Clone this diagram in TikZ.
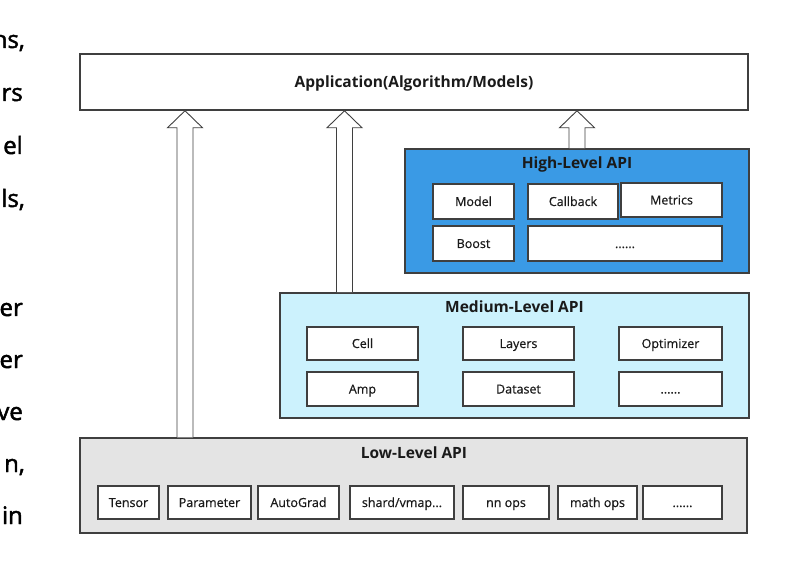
\documentclass[tikz,border=0pt]{standalone}
\usepackage{fontspec}
\setmainfont{Open Sans}
\newfontfamily\fragfont{Open Sans}[FakeBold=2]
\newfontfamily\itemfont{Open Sans}[FakeBold=0.5]
\usetikzlibrary{calc}
\definecolor{edge}{HTML}{3F3F3F}
\definecolor{highfill}{HTML}{3A9AE5}
\definecolor{medfill}{HTML}{CCF2FD}
\definecolor{lowfill}{HTML}{E4E4E4}
\definecolor{txt}{HTML}{1A1A1A}
\tikzset{
  outer/.style={draw=edge, line width=1.5pt, rectangle, inner sep=0pt},
  inner/.style={draw=edge, line width=1.2pt, fill=white, rectangle, inner sep=0pt,
    font=\itemfont\fontsize{12.5}{14}\selectfont, text=txt, text height=9pt, text depth=0pt},
  title/.style={font=\fontsize{15.5}{18}\selectfont\bfseries, text=txt, inner sep=0pt,
    text height=11pt, text depth=0pt},
  frag/.style={font=\fragfont\fontsize{24}{28}\selectfont, text=black, anchor=base east, inner sep=0pt},
  blkarrow/.style={draw=edge, line width=0.9pt, fill=white, line join=miter},
}
\newcommand\ibox[6]{% name, x1, y1, x2, y2, text
  \node[inner, minimum width={#4pt-#2pt}, minimum height={#5pt-#3pt}] (#1) at ({(#2+#4)/2},{(#3+#5)/2}) {#6};}
\newcommand\blockarrow[3]{% x coordinate, bottom node, top node
  \draw[blkarrow] ($(#1 |- #2.north)+(-8,0)$) -- ($(#1 |- #3.south)+(-8,17)$)
    -- ($(#1 |- #3.south)+(-17.5,17)$) -- (#1 |- #3.south)
    -- ($(#1 |- #3.south)+(17.5,17)$) -- ($(#1 |- #3.south)+(8,17)$)
    -- ($(#1 |- #2.north)+(8,0)$);}
\begin{document}
\begin{tikzpicture}[x=1pt,y=-1pt]
\useasboundingbox[fill=white] (0,0) rectangle (785,588);
% left text fragments (cut at the left edge, as in the reference)
\node[frag] (f1) at (25,48) {ns,};
\node[frag] (f2) at (23,101) {rs};
\node[frag] (f3) at (23,154) {el};
\node[frag] (f4) at (25,207) {ls,};
\node[frag] (f5) at (23,316) {er};
\node[frag] (f6) at (23,368) {er};
\node[frag] (f7) at (23,420) {ve};
\node[frag] (f8) at (25,472) {n,};
\node[frag] (f9) at (23,524) {in};
% outer boxes
\node[outer, fill=white, minimum width=668pt, minimum height=56pt] (app) at (414,82) {};
\node[title] (apptitle) at (414,82) {Application(Algorithm/Models)};
\node[outer, fill=highfill, minimum width=344pt, minimum height=124pt] (high) at (577,211) {};
\node[title] (hightitle) at (577,163) {High-Level API};
\node[outer, fill=medfill, minimum width=469pt, minimum height=125pt] (med) at (514.5,355.5) {};
\node[title] (medtitle) at (514.5,307) {Medium-Level API};
\node[outer, fill=lowfill, minimum width=667pt, minimum height=95pt] (low) at (413.5,485.5) {};
\node[title] (lowtitle) at (414,453) {Low-Level API};
% high-level items
\ibox{model}{433}{184}{514}{219}{Model}
\ibox{callback}{528}{184}{618}{219}{Callback}
\ibox{metrics}{621}{183}{722}{217}{Metrics}
\ibox{boost}{433}{226}{514}{261}{Boost}
\ibox{hdots}{528}{226}{722}{261}{......}
% medium-level items
\ibox{cell}{307}{327}{418}{360}{Cell}
\ibox{layers}{463}{327}{574}{360}{Layers}
\ibox{optim}{619}{327}{722}{360}{Optimizer}
\ibox{amp}{307}{372}{418}{406}{Amp}
\ibox{dataset}{463}{372}{574}{406}{Dataset}
\ibox{mdots}{619}{372}{722}{406}{......}
% low-level items
\ibox{tensor}{98}{486}{159}{519}{Tensor}
\ibox{param}{168}{486}{251}{519}{Parameter}
\ibox{autograd}{258}{486}{339}{519}{AutoGrad}
\ibox{shard}{350}{486}{454}{519}{shard/vmap...}
\ibox{nnops}{463}{486}{549}{519}{nn ops}
\ibox{mathops}{558}{486}{637}{519}{math ops}
\ibox{ldots}{643}{486}{722}{519}{......}
% block arrows
\coordinate (a1) at (185,0);
\coordinate (a2) at (344.5,0);
\coordinate (a3) at (577,0);
\blockarrow{a1}{low}{app}
\blockarrow{a2}{med}{app}
\blockarrow{a3}{high}{app}
\end{tikzpicture}
\end{document}
